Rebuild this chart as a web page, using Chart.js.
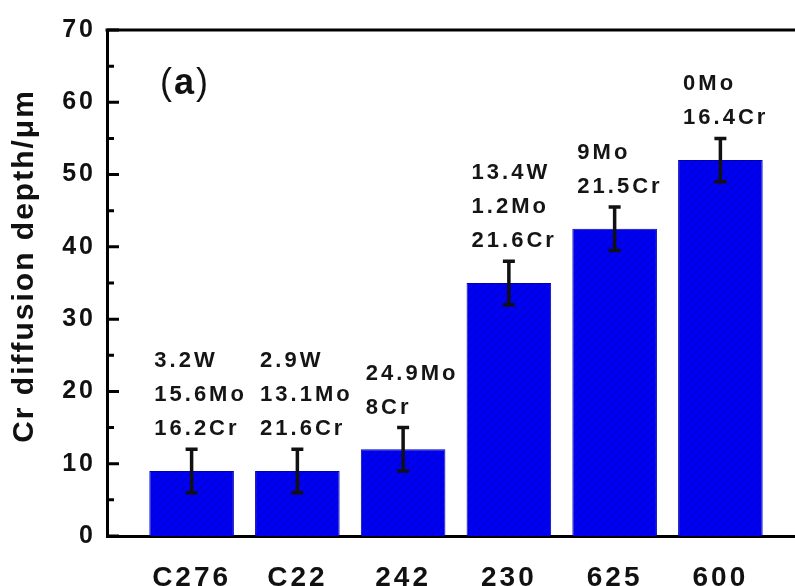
<!DOCTYPE html>
<html lang="en">

<head>
  <meta charset="UTF-8">
  <title>Cr diffusion depth</title>
  <script src="https://cdn.jsdelivr.net/npm/chart.js"></script>
  <style>
    html, body { margin: 0; padding: 0; background: #fff; overflow: hidden; }
    #wrap { width: 810px; height: 586px; }
  </style>
</head>

<body>
  <div id="wrap"><canvas id="myChart"></canvas></div>

  <script>
    // alloys and measured depth (um), +/- error
    const categories = ['C276', 'C22', '242', '230', '625', '600'];
    const depth = [9, 9, 12, 35, 42.5, 52];
    const depthErr = [3, 3, 3, 3, 3, 3];
    // composition notes above each bar
    const notes = [
      ['3.2W', '15.6Mo', '16.2Cr'],
      ['2.9W', '13.1Mo', '21.6Cr'],
      ['24.9Mo', '8Cr'],
      ['13.4W', '1.2Mo', '21.6Cr'],
      ['9Mo', '21.5Cr'],
      ['0Mo', '16.4Cr']
    ];
    const yTicks = [0, 10, 20, 30, 40, 50, 60, 70];
    const yMinorTicks = [5, 15, 25, 35, 45, 55, 65];

    const FONT = "'Liberation Sans', Arial, sans-serif";

    // blue fill with faint diagonal hatch
    function makeHatch() {
      const c = document.createElement('canvas');
      c.width = 8; c.height = 8;
      const g = c.getContext('2d');
      g.fillStyle = '#0000f2';
      g.fillRect(0, 0, 8, 8);
      g.strokeStyle = 'rgba(0,0,150,0.3)';
      g.lineWidth = 1.5;
      g.beginPath();
      g.moveTo(0, 8); g.lineTo(8, 0);
      g.moveTo(-2, 2); g.lineTo(2, -2);
      g.moveTo(6, 10); g.lineTo(10, 6);
      g.stroke();
      return document.getElementById('myChart').getContext('2d').createPattern(c, 'repeat');
    }

    const spacing = {
      id: 'spacing',
      beforeDraw(chart) {
        chart.ctx.letterSpacing = '3px';
      }
    };

    const extras = {
      id: 'extras',
      afterDatasetsDraw(chart) {
        const ctx = chart.ctx;
        const ys = chart.scales.y;
        const area = chart.chartArea;
        const bars = chart.getDatasetMeta(0).data;
        ctx.save();

        // error bars
        ctx.strokeStyle = '#111';
        ctx.lineWidth = 3.5;
        bars.forEach((bar, i) => {
          const top = ys.getPixelForValue(depth[i] + depthErr[i]);
          const bot = ys.getPixelForValue(depth[i] - depthErr[i]);
          ctx.beginPath();
          ctx.moveTo(bar.x, top); ctx.lineTo(bar.x, bot);
          ctx.moveTo(bar.x - 6, top); ctx.lineTo(bar.x + 6, top);
          ctx.moveTo(bar.x - 6, bot); ctx.lineTo(bar.x + 6, bot);
          ctx.stroke();
        });

        // composition text
        ctx.fillStyle = '#151515';
        ctx.font = 'bold 22px ' + FONT;
        ctx.letterSpacing = '3px';
        ctx.textAlign = 'left';
        ctx.textBaseline = 'middle';
        bars.forEach((bar, i) => {
          const top = ys.getPixelForValue(depth[i] + depthErr[i]);
          const lines = notes[i];
          lines.forEach((t, k) => {
            const y = top - 20 - (lines.length - 1 - k) * 34;
            ctx.fillText(t, bar.x - bar.width / 2 + 5, y);
          });
        });

        // top frame line
        ctx.strokeStyle = '#000';
        ctx.lineWidth = 3;
        ctx.beginPath();
        ctx.moveTo(area.left - 1.5, area.top);
        ctx.lineTo(area.right, area.top);
        ctx.stroke();

        // inward ticks on y axis
        ctx.lineWidth = 3;
        ctx.beginPath();
        yTicks.forEach(v => {
          const y = ys.getPixelForValue(v);
          ctx.moveTo(area.left, y); ctx.lineTo(area.left + 12, y);
        });
        yMinorTicks.forEach(v => {
          const y = ys.getPixelForValue(v);
          ctx.moveTo(area.left, y); ctx.lineTo(area.left + 7, y);
        });
        ctx.stroke();

        // panel label
        ctx.fillStyle = '#111';
        ctx.textBaseline = 'middle';
        ctx.letterSpacing = '2px';
        ctx.font = '36px ' + FONT;
        ctx.fillText('(', 160, 84);
        let w = ctx.measureText('(').width;
        ctx.font = 'bold 36px ' + FONT;
        ctx.fillText('a', 160 + w, 84);
        w += ctx.measureText('a').width;
        ctx.font = '36px ' + FONT;
        ctx.fillText(')', 160 + w, 84);

        // y axis title
        ctx.translate(25, 266);
        ctx.rotate(-Math.PI / 2);
        ctx.textAlign = 'center';
        ctx.letterSpacing = '2px';
        ctx.font = 'bold 30px ' + FONT;
        ctx.fillText('Cr diffusion depth/\u03bcm', 0, 0);

        ctx.restore();
      }
    };

    const ctx = document.getElementById('myChart').getContext('2d');

    new Chart(ctx, {
      type: 'bar',
      data: {
        datasets: [{
          label: 'Cr diffusion depth',
          data: categories.map((c, i) => ({ x: i + 1, y: depth[i] })),
          backgroundColor: makeHatch(),
          borderColor: '#0000b0',
          borderWidth: 1,
          barPercentage: 0.8,
          categoryPercentage: 1.0
        }]
      },
      options: {
        responsive: true,
        maintainAspectRatio: false,
        animation: false,
        events: [],
        layout: { padding: { top: 30, right: 5, left: 0, bottom: 0 } },
        plugins: {
          legend: { display: false },
          tooltip: { enabled: false }
        },
        scales: {
          x: {
            type: 'linear',
            offset: false,
            min: 0.2,
            max: 6.8,
            afterBuildTicks: (scale) => {
              scale.ticks = categories.map((c, i) => ({ value: i + 1 }));
            },
            afterFit: (scale) => { scale.height = 50; },
            grid: { display: false, drawTicks: false, offset: false },
            border: { display: true, color: '#000', width: 3 },
            ticks: {
              color: '#111',
              font: { family: FONT, size: 28, weight: 'bold' },
              padding: 25,
              maxRotation: 0,
              autoSkip: false,
              callback: (v) => categories[Math.round(v) - 1] || ''
            }
          },
          y: {
            min: 0,
            max: 70,
            afterBuildTicks: (scale) => {
              scale.ticks = yTicks.map(v => ({ value: v }));
            },
            afterFit: (scale) => { scale.width = 107; },
            grid: { display: false, drawTicks: false },
            border: { display: true, color: '#000', width: 3 },
            ticks: {
              color: '#111',
              font: { family: FONT, size: 25, weight: 'bold' },
              padding: 11
            }
          }
        }
      },
      plugins: [spacing, extras]
    });
  </script>
</body>

</html>
